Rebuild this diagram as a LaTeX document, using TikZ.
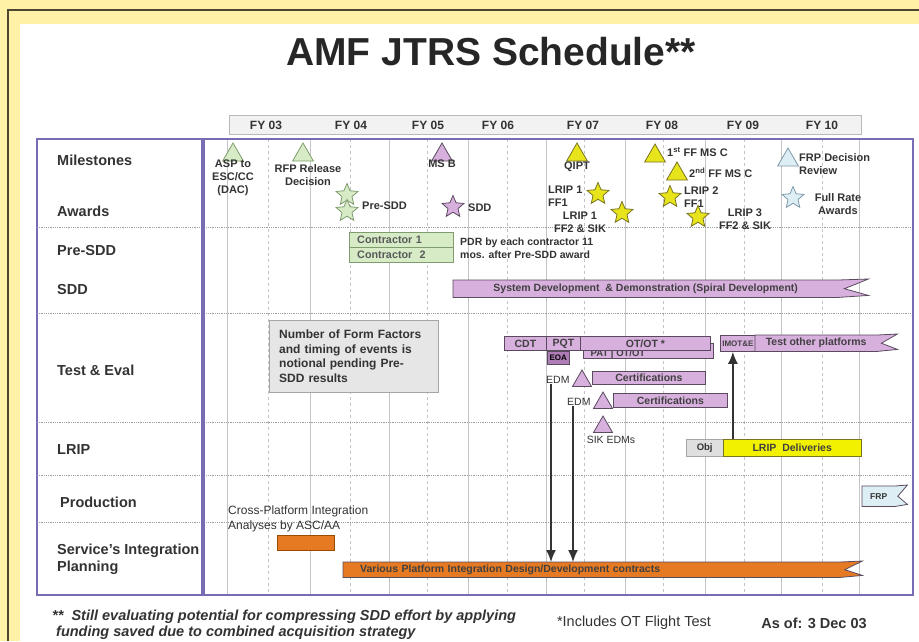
\documentclass[tikz,border=0pt]{standalone}
\usepackage{fontspec}
\setmainfont{Liberation Sans}
\usepackage{tikz}
\usetikzlibrary{shapes.geometric}
\usetikzlibrary{arrows.meta}
\usetikzlibrary{calc}

\definecolor{bgyellow}{HTML}{FFF1A6}
\definecolor{edgeline}{HTML}{4D4630}
\definecolor{framepurple}{HTML}{7A6CB4}
\definecolor{gridgray}{HTML}{C4C4C4}
\definecolor{txtgray}{HTML}{333333}
\definecolor{barline}{HTML}{5A4A5E}
\definecolor{lavender}{HTML}{D8B0DE}
\definecolor{eoapurple}{HTML}{B07CB8}
\definecolor{mgreen}{HTML}{D6EBC6}
\definecolor{mgreenline}{HTML}{7E9C6E}
\definecolor{myellow}{HTML}{E8E41C}
\definecolor{myellowline}{HTML}{7A7420}
\definecolor{lripyellow}{HTML}{F2F200}
\definecolor{paleblue}{HTML}{DDEEF4}
\definecolor{palebluel}{HTML}{7F9AAA}
\definecolor{orangebar}{HTML}{E67A22}
\definecolor{notegray}{HTML}{E6E6E6}

\newcommand{\fsz}[2]{\fontsize{#1}{#2}\selectfont}
% bar with a forked right end: node, fill colour, tail length
\newcommand{\forkend}[3]{%
  \fill[#2] ($(#1.north east)+(-0.6,0)$) -- ++(#3,-1) -- ($(#1.east)+(0.2*#3,0)$) -- ($(#1.south east)+(#3,-2)$) -- ($(#1.south east)+(-0.6,0)$) -- cycle;
  \draw[barline,line width=0.8pt] (#1.south east) -- (#1.south west) -- (#1.north west) -- (#1.north east) -- ++(#3,-1) -- ($(#1.east)+(0.2*#3,0)$) -- ($(#1.south east)+(#3,-2)$) -- (#1.south east);}

\begin{document}
\begin{tikzpicture}[x=1pt,y=-1pt,
    rowlab/.style={anchor=west,align=left,inner sep=0,text=txtgray,font=\bfseries\fsz{14.5}{17}},
    minilab/.style={align=center,inner sep=0,text=txtgray,font=\bfseries\fsz{11}{13}},
    mstri/.style={regular polygon,regular polygon sides=3,minimum size=24pt,inner sep=0,line width=0.8pt},
    awardstar/.style={star,star points=5,star point ratio=2.2,minimum size=23pt,inner sep=0,line width=0.8pt},
    greenmark/.style={fill=mgreen,draw=mgreenline},
    lavmark/.style={fill=lavender,draw=barline},
    yelmark/.style={fill=myellow,draw=myellowline},
    bluemark/.style={fill=paleblue,draw=palebluel},
    lavbar/.style={anchor=north west,inner sep=0,fill=lavender,font=\bfseries\fsz{10.5}{12},text=black!75},
    lavbox/.style={lavbar,draw=barline,line width=0.8pt},
    greenbox/.style={anchor=north west,minimum height=15pt,text width=88pt,align=left,inner xsep=8pt,inner ysep=0,
      fill=mgreen,draw=mgreenline,font=\bfseries\fsz{10.8}{12},text=black!65},
    arrowline/.style={-{Latex[length=12pt,width=10pt]},line width=1.6pt,draw=black!80}]

    \useasboundingbox (0,0) rectangle (919,641);
    \fill[bgyellow] (0,0) rectangle (919,641);
    \draw[edgeline,line width=2pt] (8,641) -- (8,10) -- (919,10);
    \fill[white] (20,24) rectangle (919,641);

    \node[font=\bfseries\fsz{39}{44},text=black!85] (title) at (491,52) {AMF JTRS Schedule**};

    % fiscal years
    \node[draw=gray!55,fill=gray!10,minimum width=632pt,minimum height=19pt,anchor=north west,inner sep=0] (fyband) at (229,115) {};
    \foreach \fx/\fy in {266/03,351/04,428/05,498/06,583/07,662/08,743/09,822/10}
        \node[font=\bfseries\fsz{12}{13},text=txtgray] (fy\fy) at (\fx,125) {FY \fy};

    % grid
    \foreach \gx in {227,310,389,468,546,625,705,781,859}
        \draw[gridgray,line width=0.8pt] (\gx,139) -- (\gx,595);
    \foreach \gx in {268,350,427,507,584,663,744,822}
        \draw[gridgray,line width=0.8pt,dashed] (\gx,139) -- (\gx,595);
    \foreach \gy in {227,313,422,475,522}
        \draw[gray!75,line width=0.8pt,densely dotted] (37,\gy) -- (913,\gy);
    \draw[framepurple,line width=2pt] (37,139) rectangle (913,595);
    \draw[framepurple,line width=3.2pt] (203,139) -- (203,595);

    % row labels
    \node[rowlab] (lmile) at (57,160) {Milestones};
    \node[rowlab] (laward) at (57,211) {Awards};
    \node[rowlab] (lpresdd) at (57,251) {Pre-SDD};
    \node[rowlab] (lsdd) at (57,290) {SDD};
    \node[rowlab] (ltest) at (57,370) {Test \& Eval};
    \node[rowlab] (llrip) at (57,450) {LRIP};
    \node[rowlab] (lprod) at (60,502) {Production};
    \node[rowlab] (lserv) at (57,559) {Service's Integration\\Planning};

    % milestones
    \node[mstri,greenmark] (asp) at (233,155) {};
    \node[minilab] (asplab) at (233,178) {ASP to\\ESC/CC\\(DAC)};
    \node[mstri,greenmark] (rfp) at (303,155) {};
    \node[minilab] (rfplab) at (308,175) {RFP Release\\Decision};
    \node[mstri,lavmark] (msb) at (442,155) {};
    \node[minilab] (msblab) at (442,164) {MS B};
    \node[mstri,yelmark] (qipt) at (577,155) {};
    \node[minilab] (qiptlab) at (577,167) {QIPT};
    \node[mstri,yelmark] (ffone) at (655,156) {};
    \node[minilab,anchor=west] (ffonelab) at (667,152) {1\textsuperscript{st} FF MS C};
    \node[mstri,yelmark] (fftwo) at (677,174) {};
    \node[minilab,anchor=west] (fftwolab) at (689,173) {2\textsuperscript{nd} FF MS C};
    \node[mstri,bluemark] (frpdec) at (788,160) {};
    \node[minilab,anchor=west,align=left] (frpdeclab) at (799,164) {FRP Decision\\Review};

    % awards
    \node[awardstar,greenmark] (psa) at (347,195) {};
    \node[awardstar,greenmark] (psb) at (347,211) {};
    \node[minilab,anchor=west] (pslab) at (362,206) {Pre-SDD};
    \node[awardstar,lavmark] (sdda) at (453,207) {};
    \node[minilab,anchor=west] (sddalab) at (468,208) {SDD};
    \node[awardstar,yelmark] (lripa) at (598,194) {};
    \node[minilab,anchor=west,align=left] (lripalab) at (548,196) {LRIP 1\\FF1};
    \node[awardstar,yelmark] (lripb) at (622,213) {};
    \node[minilab] (lripblab) at (580,222) {LRIP 1\\FF2 \& SIK};
    \node[awardstar,yelmark] (lripc) at (670,197) {};
    \node[minilab,anchor=west,align=left] (lripclab) at (684,197) {LRIP 2\\FF1};
    \node[awardstar,yelmark] (lripd) at (698,217) {};
    \node[minilab] (lripdlab) at (745,219) {LRIP 3\\FF2 \& SIK};
    \node[awardstar,bluemark] (full) at (793,198) {};
    \node[minilab] (fulllab) at (838,204) {Full Rate\\Awards};

    % pre-SDD
    \node[greenbox] (cona) at (349,232) {Contractor 1};
    \node[greenbox] (conb) at (349,247) {Contractor\ \ 2};
    \node[minilab,anchor=west,align=left,font=\bfseries\fsz{10.5}{12.5}] (pdr) at (460,248) {PDR by each contractor 11\\mos. after Pre-SDD award};

    % SDD
    \node[lavbar,minimum width=385pt,minimum height=17pt] (sddbar) at (453,280) {System Development \ \& Demonstration (Spiral Development)};
    \forkend{sddbar}{lavender}{30}

    % test and evaluation
    \node[anchor=north west,fill=notegray,draw=gray!70,minimum width=169pt,minimum height=72pt,text width=149pt,align=left,
        inner xsep=10pt,font=\bfseries\fsz{12}{14.8},text=txtgray] (note) at (269,320)
        {Number of Form Factors\\and timing of events is\\notional pending Pre-\\SDD results};
    \node[lavbox,minimum width=130pt,minimum height=15pt] (pat) at (583,343) {};
    \node[font=\bfseries\fsz{9.5}{11},text=black!75] (pattxt) at (618,354) {PAT | OT/OT};
    \node[lavbox,minimum width=42pt,minimum height=14pt] (cdt) at (504,336) {CDT};
    \node[lavbox,minimum width=34pt,minimum height=14pt] (pqt) at (546,336) {PQT};
    \node[lavbox,minimum width=130pt,minimum height=14pt] (otot) at (580,336) {OT/OT *};
    \node[anchor=north west,draw=barline,fill=eoapurple,minimum width=22pt,minimum height=13pt,inner sep=0,
        font=\bfseries\fsz{8}{9}] (eoa) at (547,351) {EOA};
    \node[minilab,anchor=west,font=\fsz{10.5}{12}] (edma) at (546,380) {EDM};
    \node[mstri,lavmark,minimum size=22pt] (cta) at (582,381) {};
    \node[lavbox,minimum width=113pt,minimum height=13pt] (certa) at (592,371) {Certifications};
    \node[minilab,anchor=west,font=\fsz{10.5}{12}] (edmb) at (567,402) {EDM};
    \node[mstri,lavmark,minimum size=22pt] (ctb) at (603,403) {};
    \node[lavbox,minimum width=114pt,minimum height=14pt] (certb) at (613,393) {Certifications};
    \node[lavbox,minimum width=35pt,minimum height=16pt,font=\bfseries\fsz{8}{9}] (imote) at (720,335) {IMOT\&E};
    \node[lavbar,minimum width=122pt,minimum height=16pt] (othr) at (755,335) {Test other platforms};
    \forkend{othr}{lavender}{20}

    % LRIP
    \node[mstri,lavmark,minimum size=22pt] (sik) at (603,427) {};
    \node[minilab,font=\fsz{10.5}{12}] (siklab) at (611,440) {SIK EDMs};
    \node[anchor=north west,draw=gray!70,fill=gray!25,minimum width=37pt,minimum height=17pt,inner sep=0,
        font=\bfseries\fsz{9.5}{11},text=txtgray] (obj) at (686,439) {Obj};
    \node[anchor=north west,draw=myellowline,fill=lripyellow,minimum width=138pt,minimum height=17pt,inner sep=0,
        font=\bfseries\fsz{10.5}{12},text=black!75] (lripdel) at (723,439) {LRIP\ \ Deliveries};

    % production
    \node[anchor=north west,fill=paleblue,inner sep=0,minimum width=33pt,minimum height=20pt,
        font=\bfseries\fsz{8.5}{10},text=txtgray] (frpbox) at (862,486) {FRP};
    \forkend{frpbox}{paleblue}{12}

    % integration planning
    \node[anchor=west,align=left,inner sep=0,font=\fsz{12}{15},text=txtgray] (cross) at (228,519) {Cross-Platform Integration\\Analyses by ASC/AA};
    \node[anchor=north west,fill=orangebar,draw=orange!60!black,minimum width=57pt,minimum height=15pt,inner sep=0] (ascbox) at (277,535) {};
    \node[anchor=north west,fill=orangebar,inner ysep=0,minimum height=15pt,text width=463pt,align=left,inner xsep=17pt,
        font=\bfseries\fsz{10.5}{12},text=black!75] (various) at (343,562) {Various Platform Integration Design/Development contracts};
    \forkend{various}{orangebar}{22}

    % connectors
    \coordinate (edmafoot) at ($(edma.south west)+(5,0)$);
    \coordinate (edmbfoot) at ($(edmb.south west)+(6,0)$);
    \coordinate (imotefoot) at ($(imote.south)+(-5,0)$);
    \draw[arrowline] (edmafoot) -- (edmafoot |- various.north);
    \draw[arrowline] (edmbfoot) -- (edmbfoot |- various.north);
    \draw[arrowline] (imotefoot |- lripdel.north) -- (imotefoot);

    % footnotes
    \node[anchor=west,align=left,inner sep=0,font=\bfseries\itshape\fsz{14.5}{16},text=txtgray] (caveat) at (52,625)
        {**\ \ Still evaluating potential for compressing SDD effort by applying\\\hspace*{4pt}funding saved due to combined acquisition strategy};
    \node[font=\fsz{14.5}{16},text=txtgray] (otnote) at (634,623) {*Includes OT Flight Test};
    \node[font=\bfseries\fsz{14.5}{16},text=txtgray] (asof) at (814,623) {As of: 3 Dec 03};
\end{tikzpicture}
\end{document}
